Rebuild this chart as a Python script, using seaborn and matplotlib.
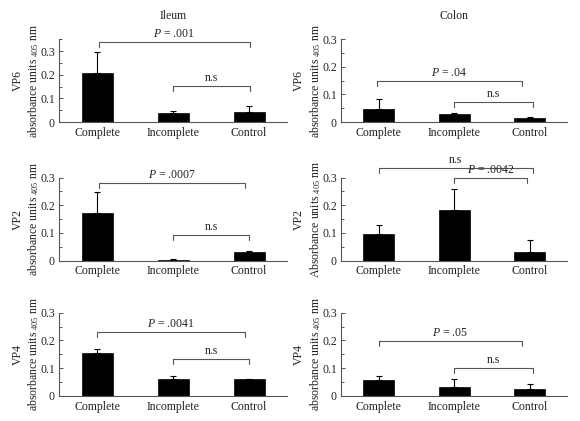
import numpy as np
import pandas as pd
import matplotlib
matplotlib.use("Agg")
import matplotlib.pyplot as plt
from matplotlib.ticker import MultipleLocator
import seaborn as sns

groups = ["Complete", "Incomplete", "Control"]

ileum_vp6 = [0.209, 0.037, 0.042]
ileum_vp6_err = [0.087, 0.010, 0.026]
ileum_vp2 = [0.172, 0.002, 0.032]
ileum_vp2_err = [0.076, 0.002, 0.004]
ileum_vp4 = [0.155, 0.059, 0.059]
ileum_vp4_err = [0.013, 0.013, 0.003]

colon_vp6 = [0.047, 0.030, 0.014]
colon_vp6_err = [0.038, 0.002, 0.003]
colon_vp2 = [0.098, 0.183, 0.030]
colon_vp2_err = [0.030, 0.075, 0.043]
colon_vp4 = [0.058, 0.031, 0.023]
colon_vp4_err = [0.012, 0.029, 0.020]

ytick_vals = [0, 0.1, 0.2, 0.3]
ytick_labels = ["0", "0.1", "0.2", "0.3"]

# comparison brackets: (label, y level)
ileum_vp6_cmp = [("$P$ = .001", 0.338), ("n.s", 0.152)]
ileum_vp2_cmp = [("$P$ = .0007", 0.281), ("n.s", 0.091)]
ileum_vp4_cmp = [("$P$ = .0041", 0.229), ("n.s", 0.133)]
colon_vp6_cmp = [("$P$ = .04", 0.147), ("n.s", 0.073)]
colon_vp2_cmp = [("n.s", 0.336), ("$P$ = .0042", 0.299)]
colon_vp4_cmp = [("$P$ = .05", 0.198), ("n.s", 0.100)]

sns.set_theme(style="ticks")
plt.rcParams.update({
    "font.family": ["Liberation Serif", "DejaVu Serif"],
    "mathtext.fontset": "custom",
    "mathtext.rm": "Liberation Serif",
    "mathtext.it": "Liberation Serif:italic",
    "mathtext.bf": "Liberation Serif:bold",
    "font.size": 8,
    "text.color": "#222222",
    "axes.labelcolor": "#222222",
    "xtick.color": "#222222",
    "ytick.color": "#222222",
})

fig = plt.figure(figsize=(5.8, 4.21), dpi=100)

col_left = [0.102, 0.588]
col_width = [0.393, 0.390]
row_bottom = [0.710, 0.381, 0.060]
row_height = 0.197

ylab = "absorbance units $_{\\mathrm{405}}$ nm"
ylab_cap = "Absorbance units $_{\\mathrm{405}}$ nm"

panels = [
    (0, 0, ileum_vp6, ileum_vp6_err, "VP6\n" + ylab, 0.35, ileum_vp6_cmp, [(0.02, 2.01), (1.0, 2.01)]),
    (0, 1, ileum_vp2, ileum_vp2_err, "VP2\n" + ylab, 0.30, ileum_vp2_cmp, [(0.02, 1.94), (1.0, 2.0)]),
    (0, 2, ileum_vp4, ileum_vp4_err, "VP4\n" + ylab, 0.30, ileum_vp4_cmp, [(0.0, 1.95), (1.0, 2.0)]),
    (1, 0, colon_vp6, colon_vp6_err, "VP6\n" + ylab, 0.30, colon_vp6_cmp, [(-0.02, 1.9), (1.0, 2.04)]),
    (1, 1, colon_vp2, colon_vp2_err, "VP2\n" + ylab_cap, 0.30, colon_vp2_cmp, [(0.0, 2.04), (1.0, 1.97)]),
    (1, 2, colon_vp4, colon_vp4_err, "VP4\n" + ylab, 0.30, colon_vp4_cmp, [(0.0, 1.9), (1.0, 2.04)]),
]

spine_col = "#555555"
for col, row, vals, errs, ylabel, ymax, cmps, spans in panels:
    ax = fig.add_axes([col_left[col], row_bottom[row], col_width[col], row_height])
    df = pd.DataFrame({"group": groups, "value": vals})
    sns.barplot(data=df, x="group", y="value", color="black", saturation=1,
                width=0.41, errorbar=None, ax=ax, edgecolor="black", linewidth=0.5)
    ax.errorbar(np.arange(len(groups)), vals, yerr=[[0] * len(errs), errs],
                fmt="none", ecolor="black", elinewidth=0.8, capsize=2.2,
                capthick=0.8, zorder=1)
    ax.set_xlim(-0.5, 2.5)
    ax.set_ylim(0, ymax)
    ax.set_yticks(ytick_vals)
    ax.set_yticklabels(ytick_labels)
    ax.yaxis.set_minor_locator(MultipleLocator(0.05))
    ax.tick_params(axis="y", which="major", direction="in", length=3, width=0.7,
                   labelsize=8.5, pad=3, color=spine_col)
    ax.tick_params(axis="y", which="minor", direction="in", length=2, width=0.7,
                   color=spine_col)
    ax.tick_params(axis="x", length=0, labelsize=8.5, pad=3.5)
    ax.set_xlabel("")
    ax.set_ylabel(ylabel, fontsize=8.5, labelpad=-0.5, linespacing=1.25)
    sns.despine(ax=ax)
    for s in ("left", "bottom"):
        ax.spines[s].set_color(spine_col)
        ax.spines[s].set_linewidth(0.8)
    d = 0.06 * ymax
    for (label, y), (x1, x2) in zip(cmps, spans):
        ax.plot([x1, x1, x2, x2], [y - d, y, y, y - d], color=spine_col,
                lw=0.8, clip_on=False)
        ax.annotate(label, xy=((x1 + x2) / 2, y), xytext=(0, 1.5),
                    textcoords="offset points", ha="center", va="bottom",
                    fontsize=8.5, annotation_clip=False)

fig.text(col_left[0] + col_width[0] / 2, 0.962, "Ileum", ha="center", va="center", fontsize=8.5)
fig.text(col_left[1] + col_width[1] / 2, 0.962, "Colon", ha="center", va="center", fontsize=8.5)

fig.savefig("out.png", dpi=100)
